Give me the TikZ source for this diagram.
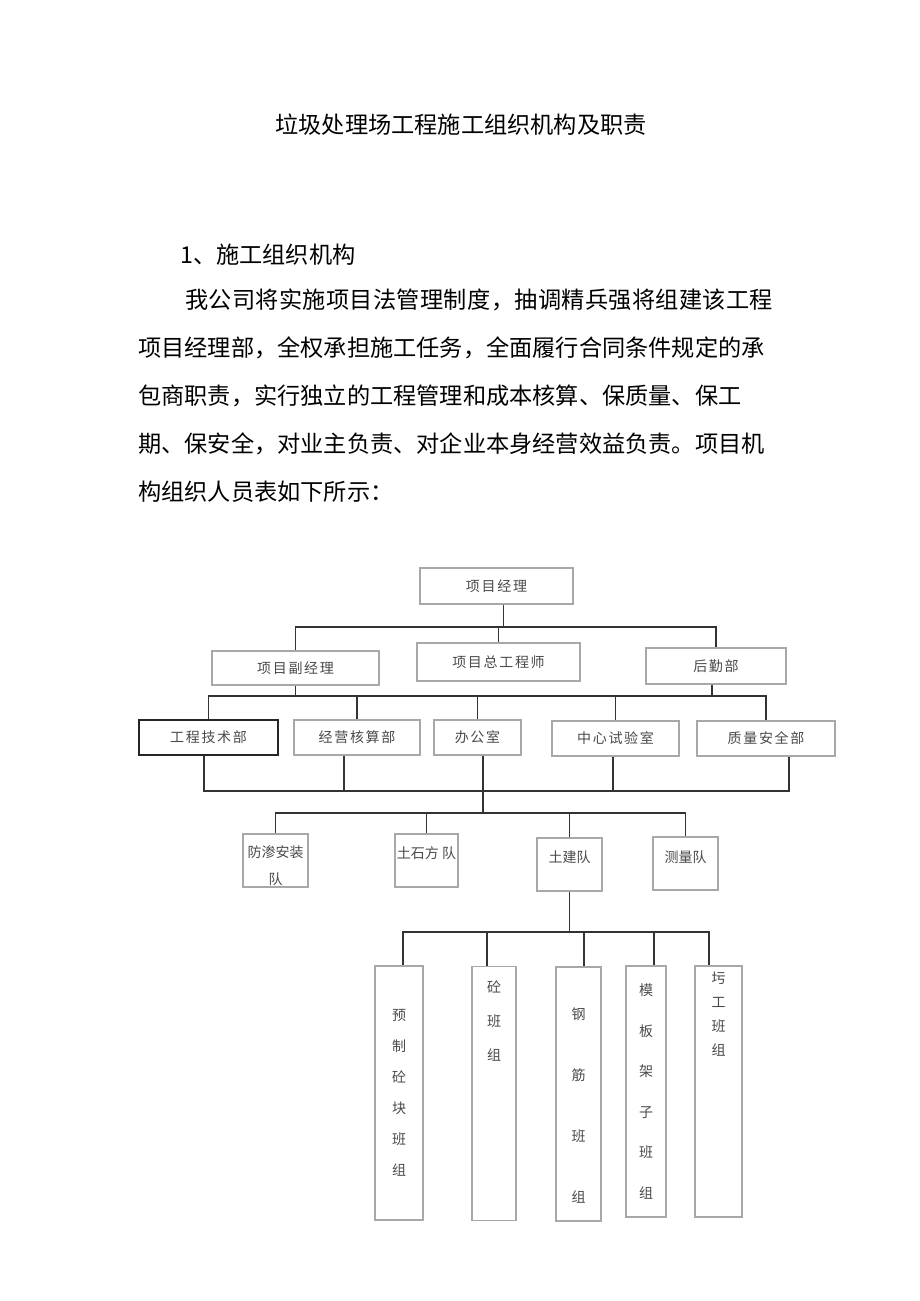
\documentclass[tikz,border=0pt]{standalone}
\usepackage{fontspec}
\setmainfont{Noto Sans CJK SC}
\usetikzlibrary{positioning}
\definecolor{boxline}{HTML}{A8A8A8}
\definecolor{boxtext}{HTML}{4A4A4A}
\newcommand{\bodyfont}{\fontsize{23.2pt}{28pt}\selectfont}
\newcommand{\chartfont}{\fontsize{14pt}{17pt}\selectfont\addfontfeature{LetterSpace=12}}

\begin{document}
\begin{tikzpicture}[x=1pt,y=-1pt,
	box/.style={draw=boxline,line width=1.2pt,text=boxtext,font=\chartfont,inner sep=0pt},
	team/.style={draw=boxline,line width=1.2pt,text=boxtext,inner sep=0pt,align=center},
	conn/.style={draw=black!80,line width=1.6pt},
	body/.style={anchor=west,inner sep=0pt,font=\bodyfont}]
	\fill[white] (0,0) rectangle (920,1301);
	\useasboundingbox (0,0) rectangle (920,1301);

	% text above the chart
	\node[inner sep=0pt,font=\bodyfont] (title) at (461,125) {垃圾处理场工程施工组织机构及职责};
	\node[body] (head) at (180,255) {1、施工组织机构};
	\node[body,font=\bodyfont\addfontfeature{LetterSpace=1.4}] (l1) at (185,300) {我公司将实施项目法管理制度，抽调精兵强将组建该工程};
	\node[body] (l2) at (138,348) {项目经理部，全权承担施工任务，全面履行合同条件规定的承};
	\node[body] (l3) at (138,396) {包商职责，实行独立的工程管理和成本核算、保质量、保工};
	\node[body] (l4) at (138,444) {期、保安全，对业主负责、对企业本身经营效益负责。项目机};
	\node[body] (l5) at (138,492) {构组织人员表如下所示：};

	% management
	\node[box,minimum width=153pt,minimum height=36pt] (pm) at (496.5,586) {项目经理};
	\node[box,minimum width=167pt,minimum height=34pt] (dpm) at (295.5,668) {项目副经理};
	\node[box,minimum width=163pt,minimum height=38pt] (ce) at (498.5,662) {项目总工程师};
	\node[box,minimum width=140pt,minimum height=36pt] (lg) at (716,666) {后勤部};

	% departments
	\node[box,draw=black!85,line width=1.6pt,minimum width=139pt,minimum height=35pt] (td) at (208.5,737.5) {工程技术部};
	\node[box,minimum width=126pt,minimum height=35pt] (ac) at (357,737.5) {经营核算部};
	\node[box,minimum width=87pt,minimum height=35pt] (of) at (477.5,737.5) {办公室};
	\node[box,minimum width=127pt,minimum height=35pt] (lab) at (615.5,738.5) {中心试验室};
	\node[box,minimum width=138pt,minimum height=35pt] (qs) at (766,738.5) {质量安全部};

	% teams
	\node[team,font=\fontsize{14pt}{27pt}\selectfont,text height=49pt,minimum width=65pt,minimum height=53pt] (fs) at (275.5,860.5) {防渗安装\\队};
	\node[team,font=\fontsize{14pt}{17pt}\selectfont,text depth=16.7pt,minimum width=63pt,minimum height=53pt] (ts) at (426.5,860.5) {土石方 队};
	\node[team,font=\fontsize{14pt}{17pt}\selectfont,text depth=16.7pt,minimum width=65pt,minimum height=53pt] (tj) at (569.5,864.5) {土建队};
	\node[team,font=\fontsize{14pt}{17pt}\selectfont,text depth=14.7pt,minimum width=65pt,minimum height=53pt] (cl) at (685.5,863.5) {测量队};

	% work groups
	\node[team,font=\fontsize{14pt}{31pt}\selectfont,minimum width=48pt,minimum height=254pt] (g1) at (399,1093) {预\\制\\砼\\块\\班\\组};
	\node[team,font=\fontsize{14pt}{34pt}\selectfont,text depth=145pt,minimum width=44pt,minimum height=254pt] (g2) at (494,1093.5) {砼\\班\\组};
	\node[team,font=\fontsize{14pt}{61pt}\selectfont,text height=217pt,minimum width=45pt,minimum height=254pt] (g3) at (578.5,1094) {钢\\筋\\班\\组};
	\node[team,font=\fontsize{14pt}{40.5pt}\selectfont,minimum width=40pt,minimum height=251pt] (g4) at (646,1091.5) {模\\板\\架\\子\\班\\组};
	\node[team,font=\fontsize{14pt}{24pt}\selectfont,text depth=155pt,minimum width=47pt,minimum height=251pt] (g5) at (718.5,1091.5) {圬\\工\\班\\组};

	% connectors
	\coordinate (bus1) at (0,627);
	\coordinate (bus2) at (0,696);
	\coordinate (bus3) at (0,791);
	\coordinate (bus4) at (0,813);
	\coordinate (bus5) at (0,932);
	\draw[conn] ([xshift=7pt]pm.south) -- ([xshift=7pt]pm.south |- bus1);
	\draw[conn] (dpm.north) |- (bus1 -| lg.north) -- (lg.north);
	\draw[conn] (ce.north) -- (ce.north |- bus1);
	\draw[conn] (dpm.south) -- (dpm.south |- bus2);
	\draw[conn] ([xshift=-4pt]lg.south) -- ([xshift=-4pt]lg.south |- bus2);
	\draw[conn] (td.north) |- (bus2 -| qs.north) -- (qs.north);
	\foreach \n in {ac,of,lab}
		\draw[conn] (\n.north) -- (\n.north |- bus2);
	\draw[conn] ([xshift=-4.5pt]td.south) |- ([xshift=23pt]qs.south |- bus3) -- ([xshift=23pt]qs.south);
	\draw[conn] ([xshift=-13pt]ac.south) -- ([xshift=-13pt]ac.south |- bus3);
	\draw[conn] ([xshift=-2.5pt]lab.south) -- ([xshift=-2.5pt]lab.south |- bus3);
	\draw[conn] ([xshift=5.5pt]of.south) -- ([xshift=5.5pt]of.south |- bus4);
	\draw[conn] (fs.north) |- (bus4 -| cl.north) -- (cl.north);
	\foreach \n in {ts,tj}
		\draw[conn] (\n.north) -- (\n.north |- bus4);
	\draw[conn] (tj.south) -- (tj.south |- bus5);
	\draw[conn] ([xshift=4pt]g1.north) |- ([xshift=-9.5pt]g5.north |- bus5) -- ([xshift=-9.5pt]g5.north);
	\draw[conn] ([xshift=-7pt]g2.north) -- ([xshift=-7pt]g2.north |- bus5);
	\draw[conn] ([xshift=5.5pt]g3.north) -- ([xshift=5.5pt]g3.north |- bus5);
	\draw[conn] ([xshift=8pt]g4.north) -- ([xshift=8pt]g4.north |- bus5);
\end{tikzpicture}
\end{document}
